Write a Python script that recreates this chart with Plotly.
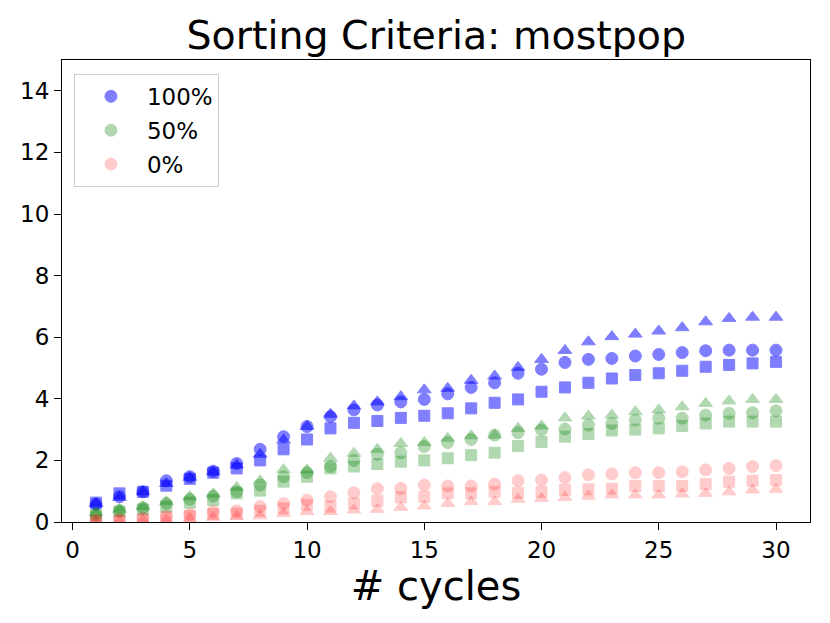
import plotly.graph_objects as go

# x positions: number of cycles
cycles = list(range(1, 31))

# 100% series (blue)
blue_circle = [0.58, 0.82, 0.98, 1.34, 1.47, 1.65, 1.90, 2.36, 2.77, 3.10,
               3.42, 3.64, 3.80, 3.90, 3.98, 4.16, 4.37, 4.52, 4.83, 4.96,
               5.18, 5.28, 5.31, 5.39, 5.44, 5.50, 5.56, 5.58, 5.58, 5.58]
blue_square = [0.63, 0.93, 0.98, 1.18, 1.40, 1.60, 1.74, 2.00, 2.36, 2.68,
               3.04, 3.22, 3.28, 3.38, 3.45, 3.53, 3.69, 3.87, 3.98, 4.23,
               4.37, 4.52, 4.66, 4.77, 4.83, 4.91, 5.04, 5.10, 5.15, 5.20]
blue_triangle = [0.60, 0.80, 0.98, 1.25, 1.45, 1.63, 1.85, 2.20, 2.66, 3.10,
                 3.50, 3.77, 3.90, 4.07, 4.29, 4.34, 4.60, 4.74, 5.02, 5.28,
                 5.57, 5.85, 6.02, 6.10, 6.20, 6.31, 6.50, 6.61, 6.65, 6.65]

# 50% series (green)
green_circle = [0.26, 0.37, 0.46, 0.60, 0.74, 0.84, 0.98, 1.20, 1.47, 1.60,
                1.80, 2.00, 2.20, 2.25, 2.45, 2.58, 2.68, 2.82, 2.90, 2.99,
                3.02, 3.15, 3.20, 3.31, 3.37, 3.37, 3.47, 3.53, 3.55, 3.61]
green_square = [0.22, 0.34, 0.41, 0.50, 0.63, 0.71, 0.93, 1.02, 1.31, 1.47,
                1.74, 1.80, 1.88, 1.96, 2.00, 2.07, 2.17, 2.25, 2.47, 2.60,
                2.77, 2.86, 2.97, 3.00, 3.04, 3.12, 3.20, 3.26, 3.26, 3.26]
green_triangle = [0.30, 0.41, 0.50, 0.66, 0.82, 0.91, 1.13, 1.34, 1.70, 1.69,
                  2.07, 2.23, 2.36, 2.55, 2.58, 2.72, 2.80, 2.82, 3.04, 3.12,
                  3.38, 3.44, 3.47, 3.58, 3.64, 3.74, 3.85, 3.93, 3.98, 3.98]

# 0% series (red)
red_circle = [0.06, 0.09, 0.12, 0.17, 0.25, 0.34, 0.36, 0.50, 0.60, 0.71,
              0.82, 0.95, 1.08, 1.09, 1.20, 1.17, 1.17, 1.23, 1.34, 1.36,
              1.44, 1.53, 1.56, 1.60, 1.60, 1.63, 1.69, 1.74, 1.80, 1.83]
red_square = [0.03, 0.05, 0.08, 0.15, 0.20, 0.26, 0.28, 0.36, 0.44, 0.55,
              0.50, 0.60, 0.69, 0.80, 0.82, 0.93, 0.93, 0.98, 0.95, 0.98,
              1.04, 1.06, 1.08, 1.17, 1.17, 1.17, 1.23, 1.31, 1.34, 1.36]
red_triangle = [0.01, 0.03, 0.05, 0.07, 0.12, 0.15, 0.18, 0.20, 0.28, 0.34,
                0.34, 0.39, 0.41, 0.48, 0.52, 0.60, 0.66, 0.66, 0.74, 0.77,
                0.80, 0.84, 0.88, 0.88, 0.88, 0.91, 0.93, 0.98, 1.04, 1.06]

groups = [
    ('100%', 'rgb(0,0,255)', 0.5, blue_circle, blue_square, blue_triangle),
    ('50%', 'rgb(0,128,0)', 0.3, green_circle, green_square, green_triangle),
    ('0%', 'rgb(255,0,0)', 0.2, red_circle, red_square, red_triangle),
]

fig = go.Figure()
for name, color, alpha, circ, sq, tri in groups:
    for vals, sym, size, show in [(circ, 'circle', 12, True),
                                  (sq, 'square', 11, False),
                                  (tri, 'triangle-up', 12, False)]:
        fig.add_trace(go.Scatter(
            x=cycles, y=vals, mode='markers', name=name,
            legendgroup=name, showlegend=show,
            marker=dict(symbol=sym, size=size, color=color, opacity=alpha,
                        line=dict(width=1, color=color)),
        ))

axis_style = dict(showline=True, linecolor='black', linewidth=1.2, mirror=True,
                  ticks='outside', ticklen=7, tickwidth=1.2, tickcolor='black',
                  showgrid=False, zeroline=False,
                  tickfont=dict(size=23, color='black'))

# page body adds 8px offset, so margins are shifted to compensate
fig.update_layout(
    width=830, height=623,
    margin=dict(l=54, r=28, t=52, b=109),
    paper_bgcolor='white', plot_bgcolor='white',
    font=dict(family='DejaVu Sans', color='black'),
    title=dict(text='Sorting Criteria: mostpop', x=0.516, xanchor='center',
               y=0.957, yanchor='middle', font=dict(size=39.5, color='black')),
    xaxis=dict(range=[-0.45, 31.45], tickvals=[0, 5, 10, 15, 20, 25, 30],
               title=dict(text='# cycles', font=dict(size=40), standoff=1),
               **axis_style),
    yaxis=dict(range=[0, 15], tickvals=[0, 2, 4, 6, 8, 10, 12, 14],
               **axis_style),
    legend=dict(x=0.016, y=0.97, xanchor='left', yanchor='top',
                bordercolor='#cccccc', borderwidth=1, itemwidth=62,
                tracegroupgap=1, traceorder='grouped',
                bgcolor='rgba(255,255,255,0.8)',
                font=dict(size=23, color='black')),
)

fig.write_html("out.html")
